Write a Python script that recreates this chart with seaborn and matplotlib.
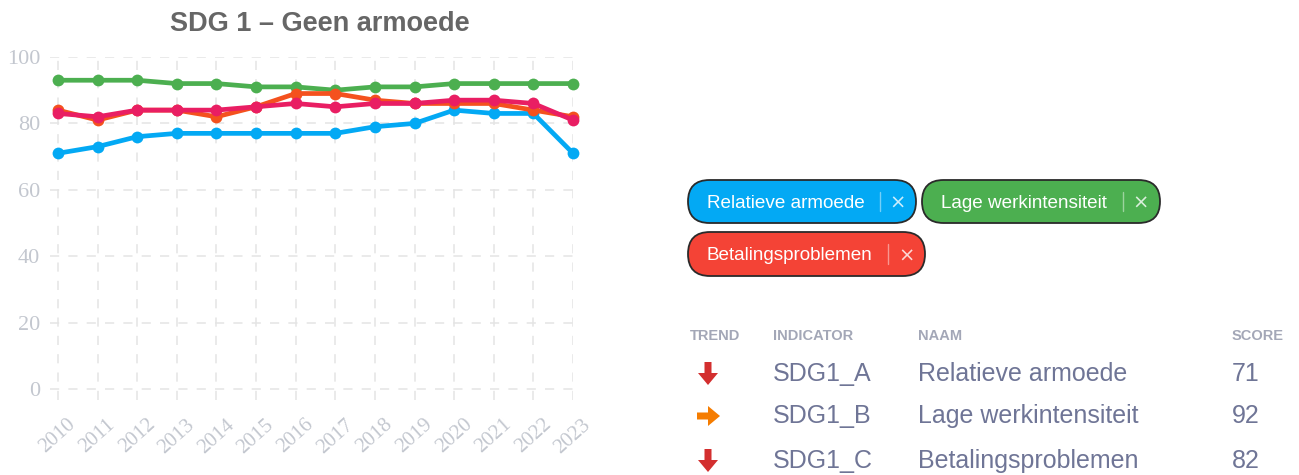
import matplotlib
matplotlib.use("Agg")
import matplotlib.pyplot as plt
from matplotlib.patches import FancyBboxPatch, Polygon
import numpy as np
import pandas as pd
import seaborn as sns

# --- data -------------------------------------------------------------
years = list(range(2010, 2024))
relatieve_armoede = [71, 73, 76, 77, 77, 77, 77, 77, 79, 80, 84, 83, 83, 71]
lage_werkintensiteit = [93, 93, 93, 92, 92, 91, 91, 90, 91, 91, 92, 92, 92, 92]
betalingsproblemen = [84, 81, 84, 84, 82, 85, 89, 89, 87, 86, 86, 86, 84, 82]
sdg1_totaal = [83, 82, 84, 84, 84, 85, 86, 85, 86, 86, 87, 87, 86, 81]

series_names = ["Relatieve armoede", "Lage werkintensiteit", "Betalingsproblemen", "SDG 1 totaal"]
series_colors = ["#03A9F4", "#4CAF50", "#F4511E", "#E91E63"]
chip_labels = ["Relatieve armoede", "Lage werkintensiteit", "Betalingsproblemen"]
chip_colors = ["#03A9F4", "#4CAF50", "#F44336"]

table_header = ["TREND", "INDICATOR", "NAAM", "SCORE"]
table_codes = ["SDG1_A", "SDG1_B", "SDG1_C"]
table_names = ["Relatieve armoede", "Lage werkintensiteit", "Betalingsproblemen"]
table_scores = [71, 92, 82]
table_trends = ["down", "flat", "down"]

y_ticks = [0, 20, 40, 60, 80, 100]

df = pd.DataFrame({
    "jaar": years * 4,
    "waarde": relatieve_armoede + lage_werkintensiteit + betalingsproblemen + sdg1_totaal,
    "reeks": sum([[n] * len(years) for n in series_names], []),
})

# --- figure -----------------------------------------------------------
W, H = 1299, 475
sns.set_style("white")
fig = plt.figure(figsize=(W / 100, H / 100), dpi=100)

ax_left, ax_right, ax_top, ax_bottom = 50, 573, 57, 400
ax = fig.add_axes([ax_left / W, 1 - ax_bottom / H,
                   (ax_right - ax_left) / W, (ax_bottom - ax_top) / H])

sns.lineplot(data=df, x="jaar", y="waarde", hue="reeks",
             palette=dict(zip(series_names, series_colors)),
             hue_order=series_names, marker="o", markersize=8.5,
             markeredgewidth=0, linewidth=3.4, legend=False, ax=ax,
             clip_on=False, zorder=3)

ax.set_xlim(2009.8, 2023)
ax.set_ylim(-3.3, 100)
ax.set_xticks(years)
ax.set_yticks(y_ticks)
ax.set_xlabel("")
ax.set_ylabel("")
for s in ax.spines.values():
    s.set_visible(False)
ax.grid(True, color="#e4e4e4", linestyle=(0, (6, 6)), linewidth=1.1, zorder=0)
ax.tick_params(axis="both", length=0)
ax.tick_params(axis="y", pad=7)
ax.tick_params(axis="x", pad=11)
ax.set_xticklabels([str(y) for y in years], rotation=42, ha="center", va="top",
                   family="Liberation Serif", fontsize=15, color="#c3c7cf")
ax.set_yticklabels([str(v) for v in y_ticks],
                   family="Liberation Serif", fontsize=16, color="#c3c7cf")

fig.text(320 / W, 1 - 24 / H, "SDG 1 \u2013 Geen armoede", ha="center", va="center",
         fontsize=19.5, fontweight="bold", color="#666666", family="Liberation Sans")

# --- overlay in pixel coordinates for the chips and the table ----------
ov = fig.add_axes([0, 0, 1, 1], zorder=5)
ov.set_xlim(0, W)
ov.set_ylim(H, 0)
ov.axis("off")

chips = [
    (688, 180, 228, 43, 707, 880, 898),
    (922, 180, 238, 43, 941, 1123, 1141),
    (688, 232, 237, 44, 707, 888, 907),
]
for (x, y, w, h, tx, sx, cx), lab, col in zip(chips, chip_labels, chip_colors):
    ov.add_patch(FancyBboxPatch((x, y), w, h,
                                boxstyle=f"round,pad=0,rounding_size={h / 2}",
                                facecolor=col, edgecolor="#2a2a2a", linewidth=1.3))
    ov.text(tx, y + h / 2, lab, ha="left", va="center_baseline", color="white",
            fontsize=13.6, family="Liberation Sans")
    ov.plot([sx, sx], [y + 12, y + h - 12], color="white", alpha=0.45, linewidth=1)
    ov.text(cx, y + h / 2, "\u00d7", ha="center", va="center_baseline",
            color="white", alpha=0.8, fontsize=14, family="DejaVu Sans")

hdr_x = [690, 773, 918, 1232]
for hx, t in zip(hdr_x, table_header):
    ov.text(hx, 336, t, ha="left", va="center", fontsize=10.5, fontweight="bold",
            color="#a3a7b7", family="Liberation Sans")

row_y = [374, 416, 461]
txt_col = "#6f7596"
for ry, code, name, score, trend in zip(row_y, table_codes, table_names,
                                       table_scores, table_trends):
    if trend == "down":
        cx0 = 708
        pts = [(cx0 - 3.5, ry - 12), (cx0 + 3.5, ry - 12), (cx0 + 3.5, ry - 1),
               (cx0 + 10, ry - 1), (cx0, ry + 11), (cx0 - 10, ry - 1), (cx0 - 3.5, ry - 1)]
        ov.add_patch(Polygon(pts, closed=True, facecolor="#d32f2f", edgecolor="none"))
    else:
        cy0 = ry
        pts = [(697, cy0 - 3.5), (708, cy0 - 3.5), (708, cy0 - 10), (720, cy0),
               (708, cy0 + 10), (708, cy0 + 3.5), (697, cy0 + 3.5)]
        ov.add_patch(Polygon(pts, closed=True, facecolor="#f57c00", edgecolor="none"))
    ov.text(773, ry, code, ha="left", va="center", fontsize=18, color=txt_col,
            family="Liberation Sans")
    ov.text(918, ry, name, ha="left", va="center", fontsize=18, color=txt_col,
            family="Liberation Sans")
    ov.text(1232, ry, str(score), ha="left", va="center", fontsize=18, color=txt_col,
            family="Liberation Sans")

fig.savefig("out.png", dpi=100, facecolor="white")
